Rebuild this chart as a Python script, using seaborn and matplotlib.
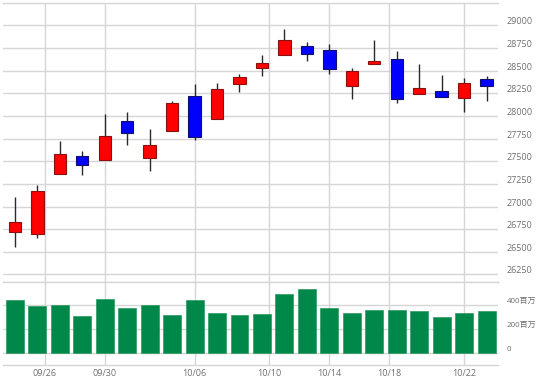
import numpy as np
import pandas as pd
import matplotlib
matplotlib.use("Agg")
import matplotlib.pyplot as plt
from matplotlib.transforms import ScaledTranslation
import seaborn as sns

# ---- data ----
dates = ["2020-09-24", "2020-09-25", "2020-09-28", "2020-09-29", "2020-09-30",
         "2020-10-01", "2020-10-02", "2020-10-05", "2020-10-06", "2020-10-07",
         "2020-10-08", "2020-10-09", "2020-10-12", "2020-10-13", "2020-10-14",
         "2020-10-15", "2020-10-16", "2020-10-19", "2020-10-20", "2020-10-21",
         "2020-10-22", "2020-10-23"]
opens = [26717, 26695, 27364, 27563, 27511, 27941, 27536, 27834, 28217, 27971,
         28353, 28529, 28672, 28768, 28728, 28327, 28570, 28633, 28247, 28272,
         28203, 28412]
highs = [27100, 27239, 27720, 27610, 28026, 28044, 27861, 28162, 28357, 28368,
         28463, 28677, 28964, 28812, 28798, 28529, 28842, 28713, 28570, 28456,
         28423, 28437]
lows = [26548, 26647, 27364, 27345, 27511, 27684, 27393, 27834, 27732, 27971,
        28264, 28441, 28672, 28606, 28467, 28187, 28570, 28143, 28247, 28209,
        28044, 28162]
closes = [26824, 27172, 27585, 27453, 27783, 27812, 27684, 28147, 27772, 28302,
          28430, 28589, 28842, 28680, 28515, 28493, 28603, 28192, 28308, 28209,
          28368, 28335]
volumes = [447, 392, 405, 310, 456, 377, 400, 321, 442, 332, 315, 327,
           495, 535, 375, 332, 358, 363, 352, 304, 332, 349]
tick_dates = ["2020-09-26", "2020-09-30", "2020-10-06", "2020-10-10",
              "2020-10-14", "2020-10-18", "2020-10-22"]
tick_labels = ["09/26", "09/30", "10/06", "10/10", "10/14", "10/18", "10/22"]
price_ticks = [26250, 26500, 26750, 27000, 27250, 27500, 27750, 28000,
               28250, 28500, 28750, 29000]
vol_ticks = [0, 200, 400]
vol_tick_labels = ["0", "200百万", "400百万"]

# ---- styling ----
sns.set_theme(style="white")
plt.rcParams["font.family"] = ["Open Sans", "Noto Sans CJK JP", "DejaVu Sans"]

UP_FACE, UP_EDGE = "#ff0000", "#8b1010"
DN_FACE, DN_EDGE = "#0000ff", "#10106b"
WICK = "#2a2a2a"
VOL = "#00884a"
GRID = "#d6d6d6"
TXT = "#707070"

W, H = 540, 380
fig = plt.figure(figsize=(W / 100, H / 100), dpi=100)
ax_p = fig.add_axes([3 / W, 1 - 281.7 / H, 495 / W, 279.0 / H])
ax_v = fig.add_axes([3 / W, 1 - 365 / H, 495 / W, 83.3 / H], sharex=ax_p)

df = pd.DataFrame({"date": pd.to_datetime(dates), "open": opens, "high": highs,
                   "low": lows, "close": closes, "volume": volumes})
df["idx"] = np.arange(len(df))
df["up"] = df["close"] >= df["open"]

# tick positions on the trading-day index (weekends interpolated)
ords = df["date"].map(pd.Timestamp.toordinal).to_numpy()
tick_pos = np.interp([pd.Timestamp(d).toordinal() for d in tick_dates], ords, df["idx"])

# ---- volume ----
sns.barplot(data=df, x="idx", y="volume", ax=ax_v, color=VOL, width=0.8,
            saturation=1, edgecolor="#2a9a5e", linewidth=0.5, native_scale=True,
            zorder=3)

# ---- candles ----
for up, face, edge in [(True, UP_FACE, UP_EDGE), (False, DN_FACE, DN_EDGE)]:
    sub = df[df["up"] == up]
    ax_p.vlines(sub["idx"], sub["low"], sub["high"], color=WICK, linewidth=1, zorder=2)
    bottom = np.minimum(sub["open"], sub["close"])
    height = np.maximum(np.abs(sub["close"] - sub["open"]), 12)
    ax_p.bar(sub["idx"], height, bottom=bottom, width=0.55, color=face,
             edgecolor=edge, linewidth=0.8, zorder=3)

# ---- axes ----
ax_p.set_ylim(26170, 29250)
ax_v.set_ylim(-104, 600)

for ax in (ax_p, ax_v):
    ax.set_xlabel("")
    ax.set_ylabel("")
    ax.set_facecolor("white")
    ax.yaxis.tick_right()
    ax.tick_params(axis="both", length=0, colors=TXT, labelsize=6.5)
    ax.grid(True, color=GRID, linewidth=1, zorder=0)
    ax.set_axisbelow(True)
    for s in ("left", "right"):
        ax.spines[s].set_visible(False)
    for s in ("top", "bottom"):
        ax.spines[s].set_color(GRID)
        ax.spines[s].set_linewidth(1)

ax_p.set_yticks(price_ticks)
ax_p.set_yticklabels([str(v) for v in price_ticks])
ax_v.set_yticks(vol_ticks)
ax_v.set_yticklabels(vol_tick_labels)
ax_p.tick_params(axis="y", pad=6.5)
ax_v.tick_params(axis="y", pad=6.5, labelsize=5.8)

ax_v.set_xticks(tick_pos)
ax_v.set_xticklabels(tick_labels)
ax_v.tick_params(axis="x", pad=3)
ax_p.tick_params(axis="x", labelbottom=False)
ax_p.set_xlim(-0.53, 21.51)

# y labels sit slightly above their grid lines
off = ScaledTranslation(0, 0.045, fig.dpi_scale_trans)
for ax in (ax_p, ax_v):
    for lab in ax.get_yticklabels():
        lab.set_transform(lab.get_transform() + off)

fig.savefig("out.png", dpi=100)
